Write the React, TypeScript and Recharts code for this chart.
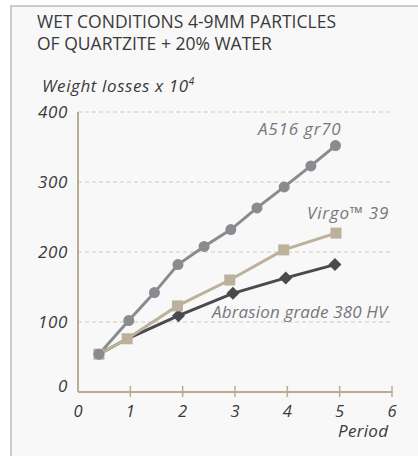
import React from "react";
import { LineChart, Line, XAxis, YAxis, CartesianGrid } from "recharts";

// Weight losses (x 10^4) per period
const a516Periods = [0.4, 0.97, 1.46, 1.91, 2.41, 2.92, 3.42, 3.94, 4.45, 4.92];
const a516Losses = [54, 102, 142, 182, 208, 232, 263, 293, 323, 352];

const virgoPeriods = [0.4, 0.94, 1.9, 2.9, 3.93, 4.93];
const virgoLosses = [54, 76, 123, 160, 203, 227];

// first two points are the shared start, hidden under the other series
const abrasionPeriods = [0.4, 0.94, 1.92, 2.96, 3.97, 4.91];
const abrasionLosses = [54, 76, 109, 141, 163, 182];

const xTicks = [0, 1, 2, 3, 4, 5, 6];
const yTicks = [0, 100, 200, 300, 400];

const toRows = (xs: number[], ys: number[]) =>
  xs.map((period, i) => ({ period, loss: ys[i] }));

const a516Data = toRows(a516Periods, a516Losses);
const virgoData = toRows(virgoPeriods, virgoLosses);
const abrasionData = toRows(abrasionPeriods, abrasionLosses);

const FONT = "'Open Sans', 'Noto Sans', sans-serif";
const BEIGE = "#bcb19a";
const AXIS = "#b8ad94";
const GRAY = "#8a8b8f";
const DARK = "#4a4a4d";
const TEXT = "#3a3a3a";

const SquareDot = (props: any) => {
  const { cx, cy } = props;
  if (cx == null || cy == null) return null;
  return <rect x={cx - 5.5} y={cy - 5.5} width={11} height={11} fill={BEIGE} />;
};

const DiamondDot = (props: any) => {
  const { cx, cy, index } = props;
  if (cx == null || cy == null || index < 2) return null;
  const r = 6.5;
  return (
    <polygon
      points={`${cx},${cy - r} ${cx + r},${cy} ${cx},${cy + r} ${cx - r},${cy}`}
      fill={DARK}
    />
  );
};

const YTick = (props: any) => {
  const { x, y, payload } = props;
  const dy = payload.value === 0 ? -6 : 0;
  return (
    <text
      x={x}
      y={y + dy}
      dy={6}
      textAnchor="end"
      fill={TEXT}
      fontSize={17}
      letterSpacing={0.6}
      fontStyle="italic"
      fontFamily={FONT}
    >
      {payload.value}
    </text>
  );
};

const XTick = (props: any) => {
  const { x, y, payload } = props;
  return (
    <g>
      {payload.value > 0 && (
        <line x1={x} x2={x} y1={y - 6} y2={y + 5} stroke={AXIS} strokeWidth={1.5} />
      )}
      <text
        x={x}
        y={y + 25}
        textAnchor="middle"
        fill={TEXT}
        fontSize={16.5}
        fontStyle="italic"
        fontFamily={FONT}
      >
        {payload.value}
      </text>
    </g>
  );
};

const seriesLabel: React.CSSProperties = {
  position: "absolute",
  fontFamily: FONT,
  fontStyle: "italic",
  fontSize: 17,
  letterSpacing: 0.8,
  color: "#76777b",
  lineHeight: "20px",
  whiteSpace: "nowrap",
};

export default function App() {
  return (
    <div
      style={{
        position: "absolute",
        left: 0,
        top: 0,
        width: 418,
        height: 456,
        background: "#ffffff",
        overflow: "hidden",
      }}
    >
      <div
        style={{
          position: "absolute",
          left: 10,
          top: 5,
          width: 410,
          height: 460,
          background: "#f8f8f8",
          borderLeft: "2px solid #cbcbce",
          borderTop: "2px solid #cbcbce",
        }}
      />
      <div
        style={{
          position: "absolute",
          left: 37,
          top: 10,
          fontFamily: FONT,
          fontSize: 17.5,
          lineHeight: "22px",
          color: TEXT,
          whiteSpace: "nowrap",
        }}
      >
        WET CONDITIONS 4-9MM PARTICLES
        <br />
        OF QUARTZITE + 20% WATER
      </div>
      <div
        style={{
          position: "absolute",
          left: 42,
          top: 70,
          fontFamily: FONT,
          fontStyle: "italic",
          fontSize: 17,
          letterSpacing: 0.6,
          lineHeight: "22px",
          color: TEXT,
          whiteSpace: "nowrap",
        }}
      >
        Weight losses x 10<sup style={{ fontSize: 10, verticalAlign: "7px" }}>4</sup>
      </div>

      <div style={{ position: "absolute", left: 0, top: 0 }}>
        <LineChart
          width={418}
          height={456}
          margin={{ top: 112, right: 26, bottom: 63, left: 77 }}
        >
          <CartesianGrid
            vertical={false}
            stroke="#d2c9b6"
            strokeDasharray="4 3"
            strokeWidth={1.2}
          />
          <XAxis
            type="number"
            dataKey="period"
            domain={[0, 6]}
            ticks={xTicks}
            height={1}
            tickSize={0}
            tickMargin={0}
            tickLine={false}
            tick={<XTick />}
            axisLine={{ stroke: AXIS, strokeWidth: 2 }}
            interval={0}
            allowDataOverflow
          />
          <YAxis
            type="number"
            dataKey="loss"
            domain={[0, 400]}
            ticks={yTicks}
            width={1}
            tickSize={0}
            tickMargin={10}
            tickLine={false}
            tick={<YTick />}
            axisLine={{ stroke: AXIS, strokeWidth: 2 }}
            interval={0}
          />
          <Line
            data={abrasionData}
            dataKey="loss"
            stroke={DARK}
            strokeWidth={3}
            dot={<DiamondDot />}
            activeDot={false}
            isAnimationActive={false}
          />
          <Line
            data={virgoData}
            dataKey="loss"
            stroke={BEIGE}
            strokeWidth={3}
            dot={<SquareDot />}
            activeDot={false}
            isAnimationActive={false}
          />
          <Line
            data={a516Data}
            dataKey="loss"
            stroke={GRAY}
            strokeWidth={3}
            dot={{ r: 5.5, fill: GRAY, stroke: GRAY, strokeWidth: 0 }}
            activeDot={false}
            isAnimationActive={false}
          />
        </LineChart>
      </div>

      <div style={{ ...seriesLabel, left: 258, top: 119 }}>A516 gr70</div>
      <div style={{ ...seriesLabel, left: 307, top: 203 }}>Virgo™ 39</div>
      <div style={{ ...seriesLabel, letterSpacing: 0.15, left: 212, top: 302 }}>
        Abrasion grade 380 HV
      </div>
      <div
        style={{
          ...seriesLabel,
          color: TEXT,
          letterSpacing: 0.3,
          lineHeight: "14px",
          left: 338,
          top: 424,
        }}
      >
        Period
      </div>
    </div>
  );
}
